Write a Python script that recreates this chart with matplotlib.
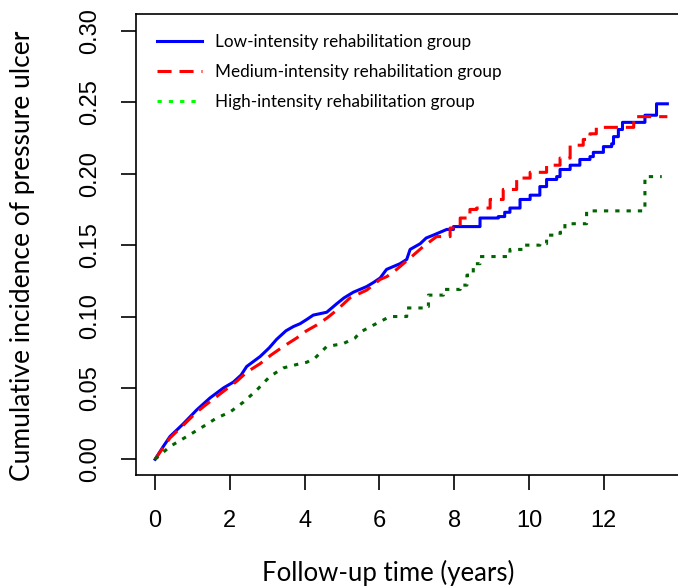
import matplotlib
matplotlib.use("Agg")
import matplotlib.pyplot as plt
from matplotlib.lines import Line2D

# cumulative incidence (time in years)
low_t = [0, 0.22, 0.40, 0.76, 1.11, 1.47, 1.83, 2.09, 2.30, 2.45, 2.81, 3.05, 3.25, 3.50,
         3.70, 3.88, 4.06, 4.23, 4.59, 4.86, 5.05, 5.30, 5.66, 5.85, 6.02, 6.19, 6.55,
         6.73, 6.82, 7.09, 7.25, 7.44, 7.62, 7.80, 7.98, 8.69, 9.18, 9.35, 9.49, 9.76,
         10.03, 10.29, 10.47, 10.74, 10.83, 11.10, 11.36, 11.63, 11.72, 11.99, 12.21,
         12.26, 12.39, 12.50, 13.10, 13.41, 13.70]
low_v = [0, 0.009, 0.016, 0.025, 0.0345, 0.043, 0.050, 0.054, 0.059, 0.065, 0.072, 0.078,
         0.084, 0.090, 0.093, 0.095, 0.098, 0.101, 0.103, 0.109, 0.113, 0.117, 0.121,
         0.124, 0.127, 0.133, 0.137, 0.140, 0.147, 0.151, 0.155, 0.157, 0.159, 0.161,
         0.163, 0.169, 0.170, 0.173, 0.176, 0.182, 0.185, 0.191, 0.196, 0.198, 0.203,
         0.206, 0.210, 0.212, 0.215, 0.219, 0.221, 0.226, 0.231, 0.236, 0.241, 0.249,
         0.249]

med_t = [0, 0.40, 0.76, 1.11, 1.40, 1.65, 2.00, 2.20, 2.45, 2.81, 3.10, 3.43, 3.79, 4.05,
         4.32, 4.60, 4.86, 5.21, 5.66, 6.02, 6.20, 6.46, 6.82, 7.17, 7.53, 7.89, 8.16,
         8.42, 8.60, 8.96, 9.31, 9.67, 10.03, 10.47, 10.83, 11.10, 11.45, 11.63, 11.80,
         12.80, 13.70]
med_v = [0, 0.015, 0.024, 0.033, 0.039, 0.044, 0.051, 0.055, 0.061, 0.067, 0.073, 0.079,
         0.085, 0.090, 0.094, 0.099, 0.1045, 0.113, 0.1185, 0.126, 0.128, 0.133, 0.141,
         0.149, 0.156, 0.162, 0.169, 0.175, 0.176, 0.182, 0.189, 0.197, 0.201, 0.206,
         0.211, 0.220, 0.224, 0.228, 0.2325, 0.240, 0.240]

high_t = [0, 0.40, 0.85, 1.29, 1.65, 2.00, 2.36, 2.72, 3.07, 3.43, 3.88, 4.06, 4.28, 4.59,
          5.03, 5.35, 5.48, 5.84, 6.28, 6.73, 7.17, 7.31, 7.71, 8.16, 8.34, 8.51, 8.69,
          9.49, 9.85, 10.29, 10.47, 10.83, 10.96, 11.54, 13.10, 13.55]
high_v = [0, 0.009, 0.016, 0.023, 0.029, 0.033, 0.040, 0.0485, 0.058, 0.064, 0.067, 0.068,
          0.071, 0.079, 0.081, 0.085, 0.089, 0.094, 0.100, 0.106, 0.107, 0.115, 0.119,
          0.122, 0.129, 0.137, 0.142, 0.147, 0.150, 0.151, 0.157, 0.159, 0.165, 0.174,
          0.198, 0.198]

labels = ["Low-intensity rehabilitation group",
          "Medium-intensity rehabilitation group",
          "High-intensity rehabilitation group"]
x_ticks = [0, 2, 4, 6, 8, 10, 12]
y_ticks = [0.00, 0.05, 0.10, 0.15, 0.20, 0.25, 0.30]


def stairs(t, v, t_step):
    # dense early part drawn point to point, sparse late part as visible steps
    xs, ys = [t[0]], [v[0]]
    for i in range(1, len(t)):
        if t[i] > t_step:
            xs.append(t[i])
            ys.append(v[i - 1])
        xs.append(t[i])
        ys.append(v[i])
    return xs, ys


W, H = 678, 586
fig = plt.figure(figsize=(W / 100, H / 100), dpi=100)
# plot region: left 136px, bottom 475px, top 14px; right edge runs off the picture
ax = fig.add_axes([136 / W, 111 / H, 553.8 / W, 461 / H])

lw = 2.2
dash = (0, (4.6, 2.6))
dots = (0, (1.4, 2.3))
ax.plot(*stairs(low_t, low_v, 7.9), color="#0000FF", lw=lw)
ax.plot(*stairs(med_t, med_v, 7.8), color="#FF0000", lw=lw, linestyle=dash)
ax.plot(*stairs(high_t, high_v, 6.6), color="#006400", lw=lw, linestyle=dots)

ax.set_xlim(-0.51, 14.3)
ax.set_ylim(-0.011, 0.3119)

tick_font = "Liberation Sans"
ax.set_xticks(x_ticks)
ax.set_xticklabels([str(t) for t in x_ticks], fontsize=17, family=tick_font)
ax.set_yticks(y_ticks)
ax.set_yticklabels([f"{v:.2f}" for v in y_ticks], fontsize=17, family=tick_font,
                   rotation=90, va="center")
ax.tick_params(direction="out", length=11, width=1.2, pad=14)
for s in ax.spines.values():
    s.set_linewidth(1.2)

handles = [Line2D([], [], color="#0000FF", lw=lw),
           Line2D([], [], color="#FF0000", lw=lw, linestyle=dash),
           Line2D([], [], color="#00FF00", lw=lw, linestyle=dots)]
leg = ax.legend(handles, labels, loc="upper left", bbox_to_anchor=(0.0379, 0.957),
                frameon=False, borderpad=0, borderaxespad=0, handlelength=2.65,
                handletextpad=0.75, labelspacing=0.83,
                prop={"family": "Lato", "size": 12.3})

fig.text(388 / W, 1 - 573 / H, "Follow-up time (years)", family="Lato", fontsize=18.5,
         ha="center", va="center")
fig.text(23 / W, 1 - 256 / H, "Cumulative incidence of pressure ulcer", family="Lato",
         fontsize=19, rotation=90, ha="center", va="center")

fig.savefig("out.png", dpi=100)
